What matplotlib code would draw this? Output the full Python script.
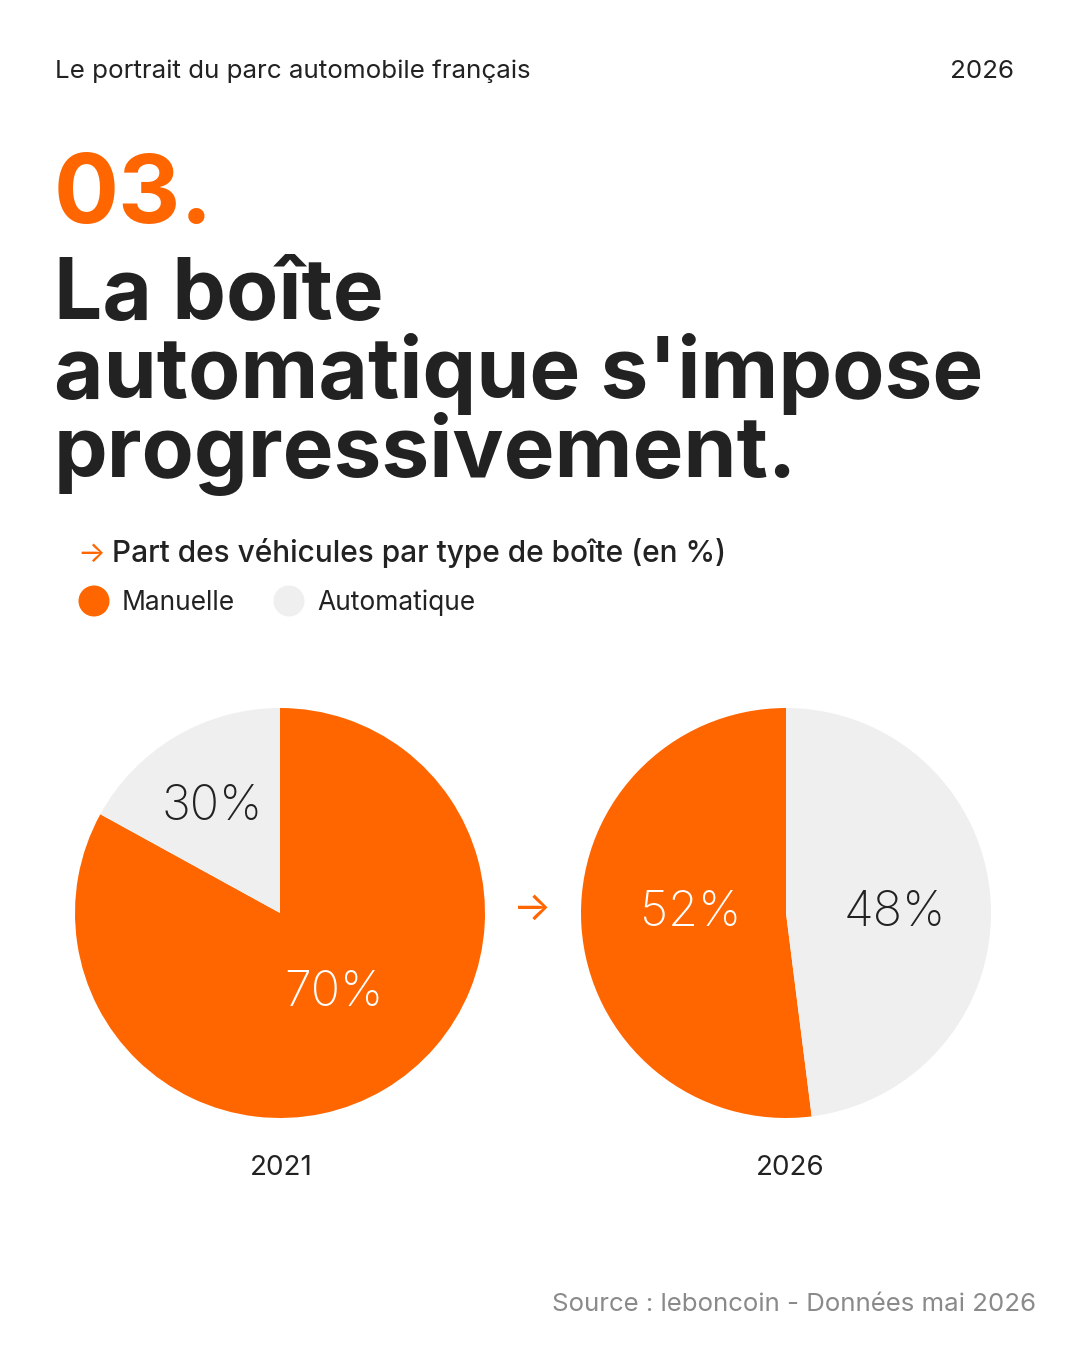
import matplotlib.pyplot as plt
from matplotlib.patches import Circle

# Données
types_boite = ["Manuelle", "Automatique"]
annees = ["2021", "2026"]
# parts telles que dessinées sur les camemberts (Manuelle, Automatique)
parts_2021 = [83, 17]
parts_2026 = [52, 48]
# valeurs affichées dans les parts
etiquettes_2021 = ["70%", "30%"]
etiquettes_2026 = ["52%", "48%"]

ORANGE = "#FF6600"
GRIS = "#EFEFEF"
NOIR = "#222222"
POLICE = ["Inter", "DejaVu Sans"]

W, H = 1080, 1350
fig = plt.figure(figsize=(W / 100, H / 100), dpi=100)
fig.patch.set_facecolor("white")
ax = fig.add_axes([0, 0, 1, 1])


def y(px):
    # coordonnées en pixels depuis le haut
    return H - px


# En-tête
ax.text(55, y(78), "Le portrait du parc automobile français", fontsize=18.7,
        family=POLICE, color=NOIR, va="baseline", ha="left")
ax.text(1014, y(78), "2026", fontsize=18.7, family=POLICE, color=NOIR,
        va="baseline", ha="right")

# Numéro et titre
ax.text(54, y(223), "03.", fontsize=69.5, family=POLICE, weight="bold",
        color=ORANGE, va="baseline", ha="left")
for i, ligne in enumerate(["La boîte", "automatique s'impose", "progressivement."]):
    ax.text(54, y(319 + 79 * i), ligne, fontsize=61.5, family=POLICE,
            weight="bold", color=NOIR, va="baseline", ha="left")

# Sous-titre et légende
ax.text(77, y(562), "→", fontsize=21, family=POLICE, color=ORANGE,
        va="baseline", ha="left")
ax.text(112, y(562), "Part des véhicules par type de boîte (en %)", fontsize=21.5,
        family=POLICE, weight="medium", color=NOIR, va="baseline", ha="left")
for x0, couleur, nom in zip([94, 289], [ORANGE, GRIS], types_boite):
    ax.add_patch(Circle((x0, y(601)), 15.5, color=couleur, lw=0))
    ax.text(x0 + 28, y(610), nom, fontsize=19, family=POLICE, color=NOIR,
            va="baseline", ha="left")

# Camemberts
R = 205
centres = [(280, 913), (786, 913)]
series = [parts_2021, parts_2026]
etiquettes = [etiquettes_2021, etiquettes_2026]
horaire = [True, False]
# position des étiquettes (en rayon, par rapport au centre)
decalages = [[(0.265, -0.367), (-0.332, 0.542)],
             [(-0.463, 0.024), (0.529, 0.024)]]
decalage_annee = [1, 4]

for (cx, cy), parts, etq, sens, dec, annee, dxa in zip(
        centres, series, etiquettes, horaire, decalages, annees, decalage_annee):
    wedges, _ = ax.pie(parts, colors=[ORANGE, GRIS], startangle=90,
                       counterclock=not sens, center=(cx, y(cy)), radius=R,
                       wedgeprops=dict(linewidth=0))
    for txt, (dx, dy), c in zip(etq, dec, ["white", NOIR]):
        ax.text(cx + dx * R, y(cy) + dy * R - 18, txt,
                fontsize=35, family=POLICE, weight="light", color=c,
                ha="center", va="baseline")
    ax.text(cx + dxa, y(1175), annee, fontsize=20, family=POLICE, color=NOIR,
            ha="center", va="baseline")

# Flèche entre les deux années
ax.text(532, y(909), "→", fontsize=29, family=POLICE, weight="normal",
        color=ORANGE, ha="center", va="center")

# Source
ax.text(1036, y(1311), "Source : leboncoin - Données mai 2026", fontsize=18.6,
        family=POLICE, color="#8A8A8A", ha="right", va="baseline")

ax.set_xlim(0, W)
ax.set_ylim(0, H)
ax.axis("off")

fig.savefig("out.png", dpi=100, facecolor="white")
